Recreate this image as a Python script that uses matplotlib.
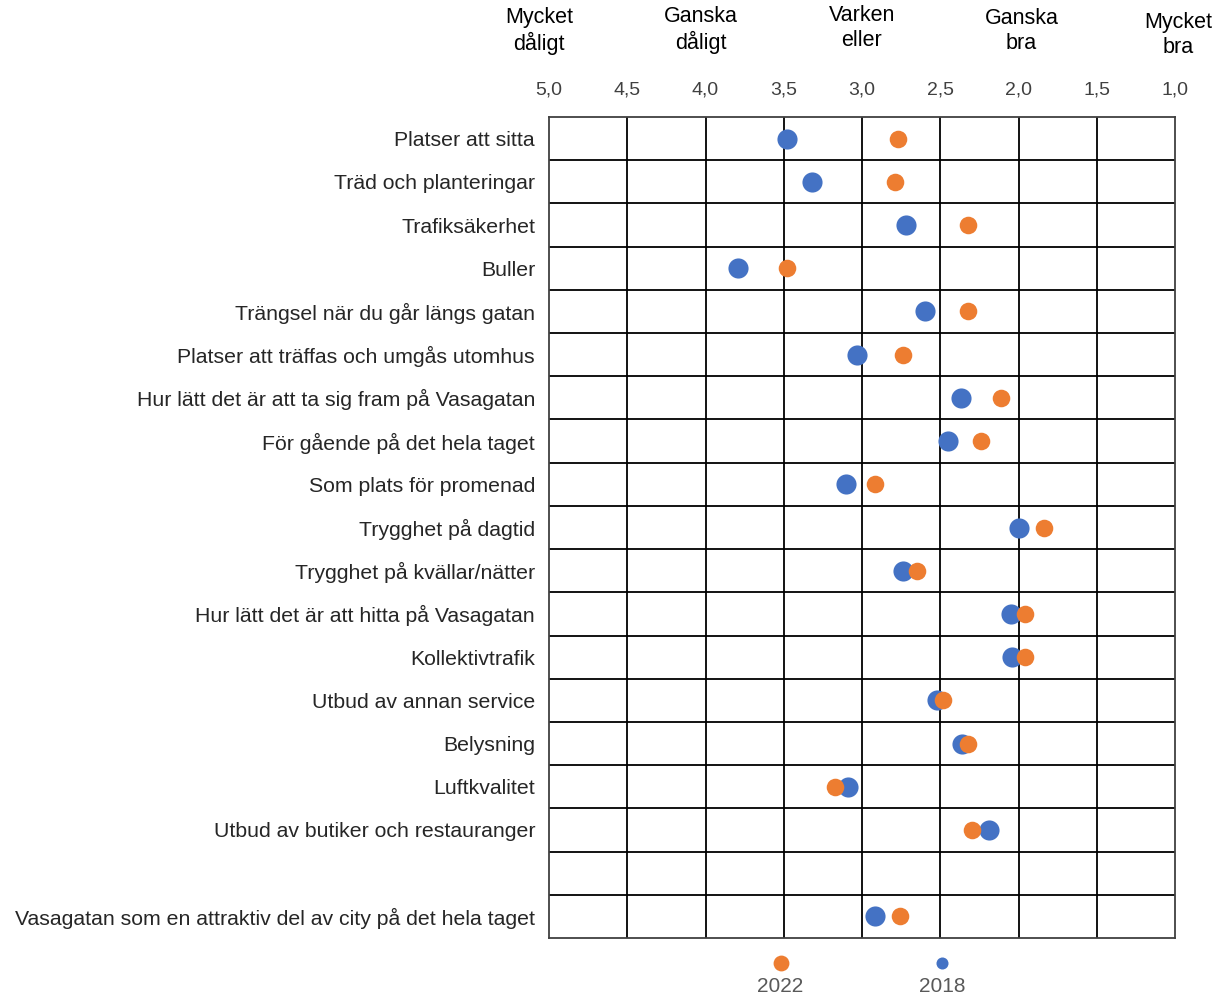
import matplotlib
matplotlib.use("Agg")
import matplotlib.pyplot as plt

plt.rcParams["font.family"] = ["Liberation Sans", "DejaVu Sans"]

categories = [
    "Platser att sitta",
    "Träd och planteringar",
    "Trafiksäkerhet",
    "Buller",
    "Trängsel när du går längs gatan",
    "Platser att träffas och umgås utomhus",
    "Hur lätt det är att ta sig fram på Vasagatan",
    "För gående på det hela taget",
    "Som plats för promenad",
    "Trygghet på dagtid",
    "Trygghet på kvällar/nätter",
    "Hur lätt det är att hitta på Vasagatan",
    "Kollektivtrafik",
    "Utbud av annan service",
    "Belysning",
    "Luftkvalitet",
    "Utbud av butiker och restauranger",
    "",
    "Vasagatan som en attraktiv del av city på det hela taget",
]

values_2018 = [3.48, 3.32, 2.72, 3.79, 2.60, 3.03, 2.37, 2.45, 3.10, 2.00,
               2.74, 2.05, 2.04, 2.52, 2.36, 3.09, 2.19, None, 2.92]
values_2022 = [2.77, 2.79, 2.32, 3.48, 2.32, 2.74, 2.11, 2.24, 2.92, 1.84,
               2.65, 1.96, 1.96, 2.48, 2.32, 3.17, 2.30, None, 2.76]

x_ticks = [5.0, 4.5, 4.0, 3.5, 3.0, 2.5, 2.0, 1.5, 1.0]
scale_labels = ["Mycket\ndåligt", "Ganska\ndåligt", "Varken\neller", "Ganska\nbra", "Mycket\nbra"]
scale_positions = [5.0, 4.0, 3.0, 2.0, 1.0]
# small per-label placement tweaks (x offset px, y centre px)
scale_offsets = [(-10, 31), (-5, 30), (0, 28), (3, 31), (3, 35)]

BLUE = "#4472C4"
ORANGE = "#ED7D31"

W, H = 1215, 994
fig = plt.figure(figsize=(W / 100, H / 100), dpi=100)
ax = fig.add_axes([549 / W, 1 - 938 / H, (1175 - 549) / W, (938 - 117) / H])

n = len(categories)
rows = list(range(n))

x18 = [v for v in values_2018 if v is not None]
y18 = [r for r, v in zip(rows, values_2018) if v is not None]
x22 = [v for v in values_2022 if v is not None]
y22 = [r for r, v in zip(rows, values_2022) if v is not None]

ax.scatter(x18, y18, s=210, color=BLUE, zorder=3, linewidths=0)
ax.scatter(x22, y22, s=160, color=ORANGE, zorder=4, linewidths=0)

ax.set_xlim(5.0, 1.0)
ax.set_ylim(n - 0.5, -0.5)

# grid: vertical lines at ticks, horizontal lines between rows
for xv in x_ticks[1:-1]:
    ax.axvline(xv, color="black", lw=1.3, zorder=1)
for k in range(1, n):
    ax.axhline(k - 0.5, color="black", lw=1.3, zorder=1)
for sp in ax.spines.values():
    sp.set_color("#404040")
    sp.set_linewidth(1.3)

ax.xaxis.tick_top()
ax.set_xticks(x_ticks)
ax.set_xticklabels([f"{t:.1f}".replace(".", ",") for t in x_ticks],
                   fontsize=14, color="#404040")
ax.tick_params(axis="x", length=0, pad=13)
ax.set_yticks(rows)
ax.set_yticklabels(categories, fontsize=15.3, color="#262626")
ax.tick_params(axis="y", length=0, pad=10)

# verbal scale above the numeric ticks
for lbl, pos, (dx, yc) in zip(scale_labels, scale_positions, scale_offsets):
    xp = ax.transData.transform((pos, 0))[0] + dx
    fig.text(xp / W, 1 - yc / H, lbl, ha="center", va="center",
             fontsize=15.5, color="black", linespacing=1.25)

# legend below the plot
for val, col, size, name in [(3.52, ORANGE, 130, "2022"), (2.49, BLUE, 75, "2018")]:
    xf = ax.transData.transform((val, 0))[0] / W
    lax = fig.add_axes([xf - 0.02, 1 - 973 / H, 0.04, 0.02])
    lax.axis("off")
    lax.set_xlim(-1, 1)
    lax.set_ylim(-1, 1)
    lax.scatter([0], [0], s=size, color=col, linewidths=0)
    fig.text(xf, 1 - 986 / H, name, ha="center", va="center",
             fontsize=15, color="#595959")

fig.savefig("out.png", dpi=100)
